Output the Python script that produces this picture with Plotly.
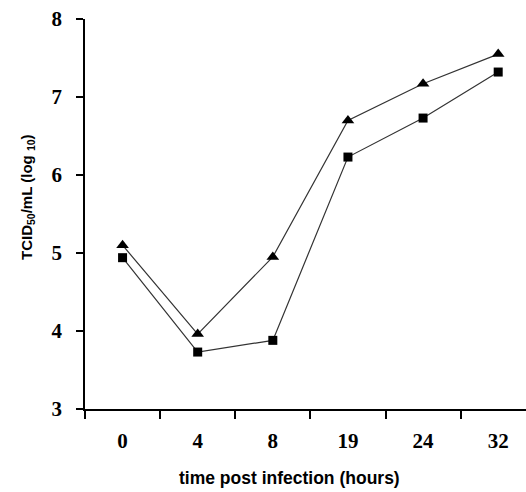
import plotly.graph_objects as go

categories = ["0", "4", "8", "19", "24", "32"]
triangle_vals = [5.10, 3.96, 4.95, 6.70, 7.17, 7.55]
square_vals = [4.94, 3.73, 3.88, 6.23, 6.73, 7.32]
y_ticks = [3, 4, 5, 6, 7, 8]

fig = go.Figure()
fig.add_trace(go.Scatter(
    x=categories, y=triangle_vals, mode="lines+markers",
    line=dict(color="#333333", width=1.2),
    marker=dict(symbol="triangle-up", size=11, color="black"),
    showlegend=False))
fig.add_trace(go.Scatter(
    x=categories, y=square_vals, mode="lines+markers",
    line=dict(color="#333333", width=1.2),
    marker=dict(symbol="square", size=9, color="black"),
    showlegend=False))

tick_font = dict(family="Liberation Serif", size=21, color="black", weight="bold")

fig.update_layout(
    width=526, height=492,
    margin=dict(l=85, r=0, t=19, b=83),
    plot_bgcolor="white", paper_bgcolor="white",
    xaxis=dict(type="category", range=[-0.5, 5.37], tickson="boundaries",
               showline=True, linecolor="black", linewidth=1.5,
               ticks="outside", ticklen=8, tickcolor="black", tickwidth=1.5,
               ticklabelstandoff=12,
               showgrid=False, zeroline=False, tickfont=tick_font),
    yaxis=dict(range=[3, 8], tickvals=y_ticks,
               showline=True, linecolor="black", linewidth=1.5,
               ticks="outside", ticklen=7, tickcolor="black", tickwidth=1.5,
               ticklabelstandoff=10,
               showgrid=False, zeroline=False, tickfont=tick_font),
    annotations=[
        dict(text="<b>time post infection (hours)</b>", xref="paper", yref="paper",
             x=(289 - 85) / 441, y=-(478 - 409) / 390, xanchor="center", yanchor="middle",
             showarrow=False, font=dict(family="Liberation Sans", size=17.5, color="black")),
        dict(text="<b>TCID<sub>50</sub>/mL (log <sub>10</sub>)</b>", xref="paper", yref="paper",
             x=-(85 - 27) / 441, y=(409 - 197) / 390, xanchor="center", yanchor="middle",
             textangle=-90, showarrow=False,
             font=dict(family="Liberation Sans", size=15, color="black")),
    ],
)

fig.write_html("out.html")
